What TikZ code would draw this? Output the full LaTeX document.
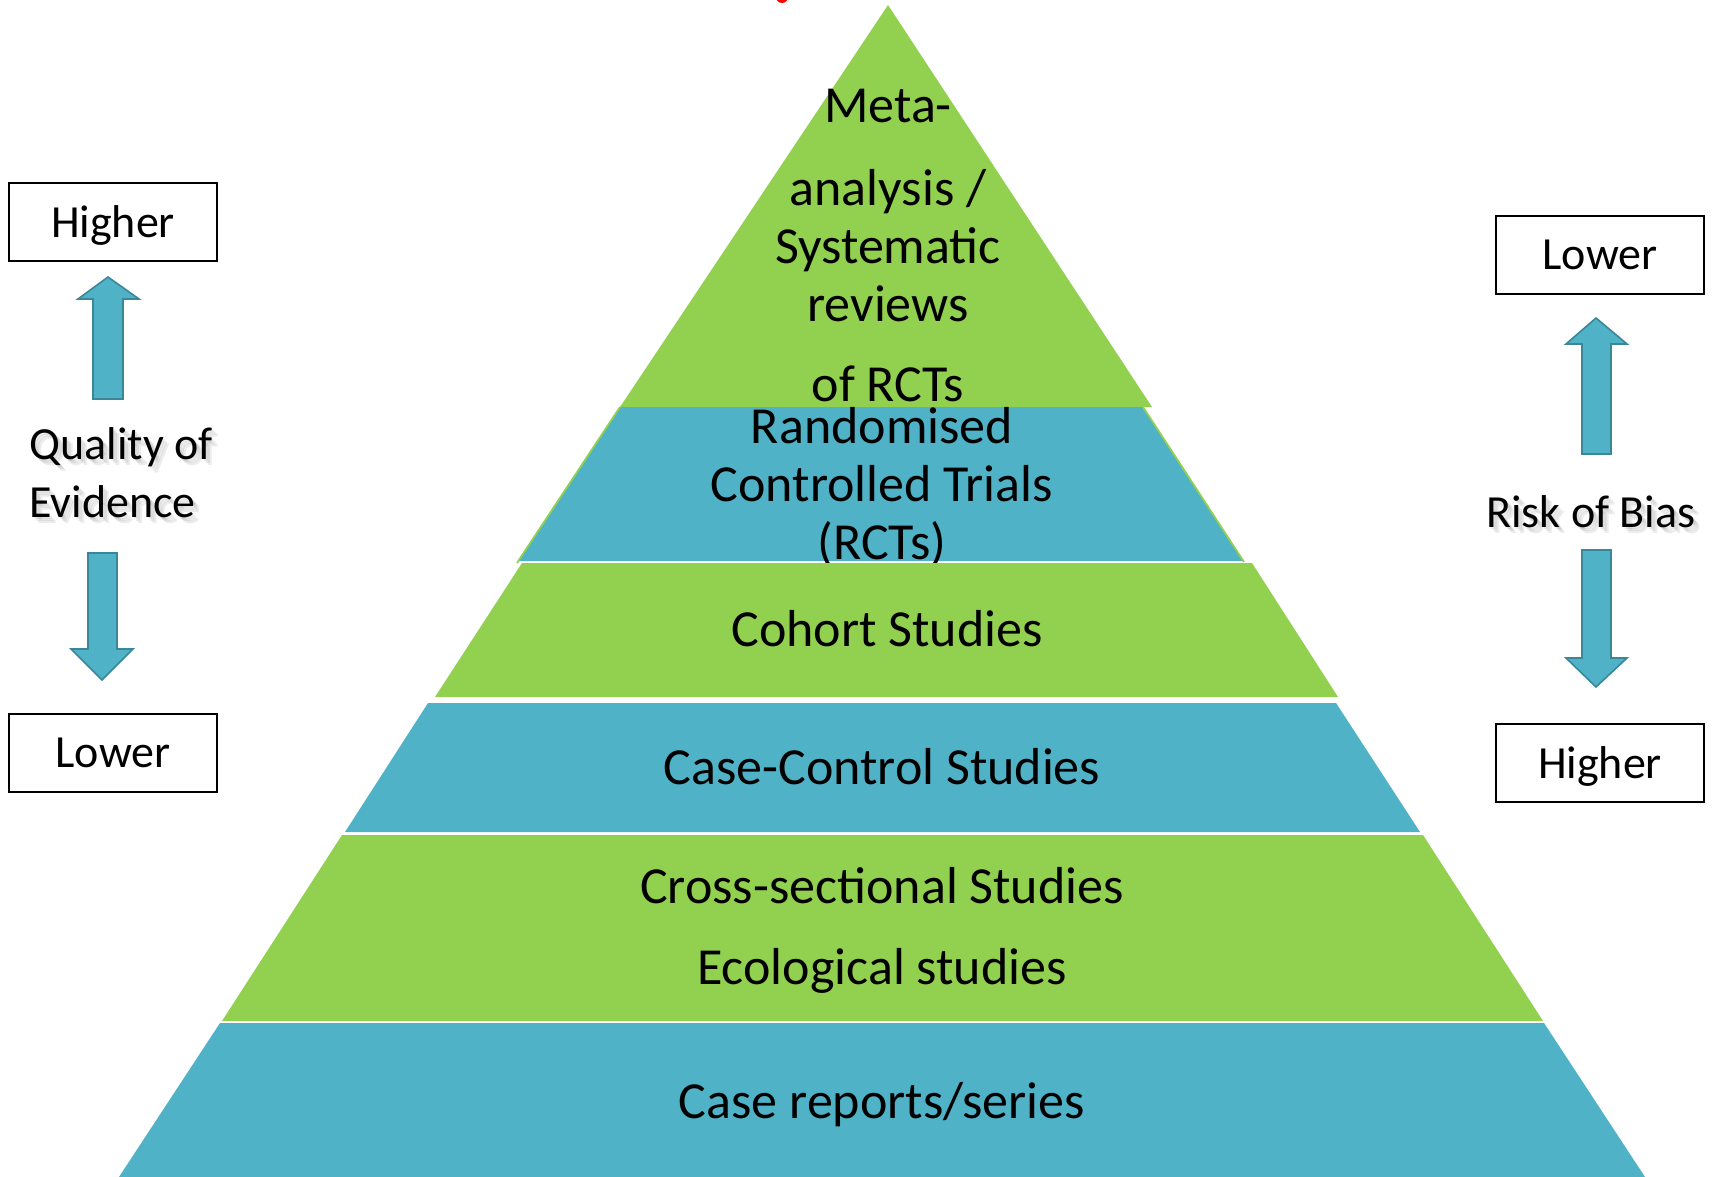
\documentclass[tikz,border=0pt]{standalone}
\usepackage{fontspec}
\setmainfont{Carlito}
\usepackage{tikz}

\definecolor{pyrgreen}{HTML}{92D050}
\definecolor{pyrblue}{HTML}{4FB2C7}
\definecolor{arrowline}{HTML}{3A8799}

\tikzset{
  layertext/.style={font=\fontsize{26}{29}\selectfont, anchor=base, inner sep=0pt},
  sidetext/.style={font=\fontsize{23}{33}\selectfont, anchor=base west, inner sep=0pt},
  sideshadow/.style={sidetext, text=black!60, opacity=.12},
  levelbox/.style={draw=black, line width=1pt, minimum width=104pt, minimum height=39pt,
    inner sep=0pt, text depth=0pt, font=\fontsize{23}{28}\selectfont},
  blockarrow/.style={fill=pyrblue, draw=arrowline, line width=.8pt, line join=miter},
}

\begin{document}
\begin{tikzpicture}[x=0.5pt,y=-0.5pt]
  \useasboundingbox (0,0) rectangle (1712,1177);
  \fill[red] (782,-3) ellipse[x radius=6, y radius=6];

  % pyramid, top to bottom
  \fill[pyrgreen] (888,5) -- (620,407) -- (1152,407) -- cycle;
  \fill[pyrblue] (620,407) -- (1143,407) -- (1243,561) -- (518,561) -- cycle;
  \draw[pyrgreen, line width=.9pt] (620,407) -- (517,563);
  \draw[pyrgreen, line width=.9pt] (1143,407) -- (1244,562);

  \node[layertext] (metaA) at (888,123) {Meta-};
  \node[layertext] (metaB) at (888,205) {analysis /};
  \node[layertext] (metaC) at (888,263) {Systematic};
  \node[layertext] (metaD) at (888,321) {reviews};
  \node[layertext] (metaE) at (888,401) {of RCTs};

  \node[layertext] (rctA) at (882,443) {Randomised};
  \node[layertext] (rctB) at (882,501) {Controlled Trials};
  \node[layertext] (rctC) at (882,559) {(RCTs)};

  \fill[pyrgreen] (522,563) -- (1252,563) -- (1338,697) -- (435,697) -- cycle;
  \node[layertext] (cohort) at (887,646) {Cohort Studies};

  \fill[pyrblue] (428,703) -- (1336,703) -- (1420,832) -- (345,832) -- cycle;
  \node[layertext] (casectrl) at (882,784) {Case-Control Studies};

  \fill[pyrgreen] (342,835) -- (1423,835) -- (1543,1021) -- (222,1021) -- cycle;
  \node[layertext] (crossA) at (882,903) {Cross-sectional Studies};
  \node[layertext] (crossB) at (882,984) {Ecological studies};

  \fill[pyrblue] (220,1023) -- (1544,1023) -- (1647,1180) -- (117,1180) -- cycle;
  \node[layertext] (reports) at (882,1118) {Case reports/series};

  % quality of evidence
  \node[levelbox] (qhigh) at (113,222) {Higher};
  \node[levelbox] (qlow) at (113,753) {Lower};
  \draw[blockarrow] (93,399) -- (93,299) -- (78,299) -- (108,277) -- (139,299)
    -- (123,299) -- (123,399) -- cycle;
  \draw[blockarrow] (88,553) -- (117,553) -- (117,649) -- (133,649) -- (102,680)
    -- (71,649) -- (88,649) -- cycle;
  \node[sideshadow] (qualAshA) at (31,461) {Quality of};
  \node[sideshadow] (qualAshB) at (33,463) {Quality of};
  \node[sideshadow] (qualAshC) at (35,465) {Quality of};
  \node[sideshadow] (qualBshA) at (31,519) {Evidence};
  \node[sideshadow] (qualBshB) at (33,521) {Evidence};
  \node[sideshadow] (qualBshC) at (35,523) {Evidence};
  \node[sidetext] (qualA) at (29,459) {Quality of};
  \node[sidetext] (qualB) at (29,517) {Evidence};

  % risk of bias
  \node[levelbox] (blow) at (1600,255) {Lower};
  \node[levelbox] (bhigh) at (1600,763) {Higher};
  \draw[blockarrow] (1582,454) -- (1582,344) -- (1566,344) -- (1596,318) -- (1627,344)
    -- (1611,344) -- (1611,454) -- cycle;
  \draw[blockarrow] (1582,550) -- (1611,550) -- (1611,658) -- (1627,658) -- (1596,687)
    -- (1566,658) -- (1582,658) -- cycle;
  \node[sideshadow, anchor=base] (riskShA) at (1593,529) {Risk of Bias};
  \node[sideshadow, anchor=base] (riskShB) at (1595,531) {Risk of Bias};
  \node[sideshadow, anchor=base] (riskShC) at (1597,533) {Risk of Bias};
  \node[sidetext, anchor=base] (risk) at (1591,527) {Risk of Bias};
\end{tikzpicture}
\end{document}
